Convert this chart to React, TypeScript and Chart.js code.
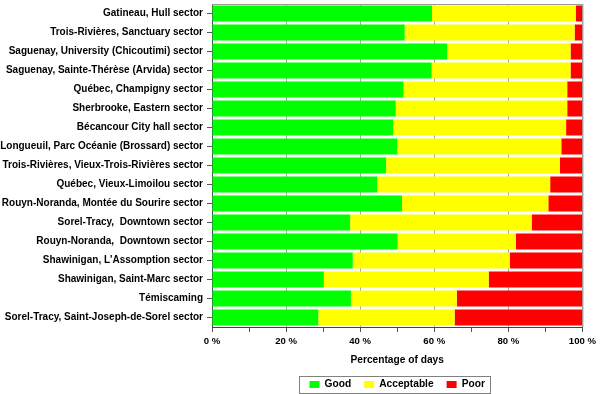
import React, { useEffect, useRef } from "react";
import { Chart, registerables } from "chart.js";

Chart.register(...registerables);

const categories = [
  "Gatineau, Hull sector",
  "Trois-Rivières, Sanctuary sector",
  "Saguenay, University (Chicoutimi) sector",
  "Saguenay, Sainte-Thérèse (Arvida) sector",
  "Québec, Champigny sector",
  "Sherbrooke, Eastern sector",
  "Bécancour City hall sector",
  "Longueuil, Parc Océanie (Brossard) sector",
  "Trois-Rivières, Vieux-Trois-Rivières sector",
  "Québec, Vieux-Limoilou sector",
  "Rouyn-Noranda, Montée du Sourire sector",
  "Sorel-Tracy,  Downtown sector",
  "Rouyn-Noranda,  Downtown sector",
  "Shawinigan, L'Assomption sector",
  "Shawinigan, Saint-Marc sector",
  "Témiscaming",
  "Sorel-Tracy, Saint-Joseph-de-Sorel sector",
];

const good = [59.4, 52.0, 63.5, 59.3, 51.7, 49.6, 48.9, 50.0, 47.0, 44.6, 51.3, 37.3, 50.1, 38.0, 30.2, 37.5, 28.7];
const acceptable = [38.8, 45.9, 33.3, 37.5, 44.2, 46.3, 46.7, 44.3, 46.9, 46.7, 39.5, 49.0, 31.9, 42.4, 44.5, 28.6, 36.8];
const poor = [1.8, 2.1, 3.2, 3.2, 4.1, 4.1, 4.4, 5.7, 6.1, 8.7, 9.2, 13.7, 18.0, 19.6, 25.3, 33.9, 34.5];

const seriesNames = ["Good", "Acceptable", "Poor"];
const seriesColors = ["#00FF00", "#FFFF00", "#FF0000"];
const xTitle = "Percentage of days";

const FONT = "'Liberation Sans', Arial, sans-serif";

const framePlugin = {
  id: "frame",
  afterDatasetsDraw(chart: any) {
    const { ctx, chartArea } = chart;
    ctx.save();
    ctx.strokeStyle = "#9a9a9a";
    ctx.lineWidth = 1;
    ctx.beginPath();
    ctx.moveTo(chartArea.left, chartArea.top + 0.5);
    ctx.lineTo(chartArea.right + 0.5, chartArea.top + 0.5);
    ctx.lineTo(chartArea.right + 0.5, chartArea.bottom);
    ctx.stroke();
    ctx.restore();
  },
  afterDraw(chart: any) {
    const legend = chart.legend;
    if (!legend || !legend.legendHitBoxes || !legend.legendHitBoxes.length) return;
    const boxes = legend.legendHitBoxes;
    const first = boxes[0];
    const last = boxes[boxes.length - 1];
    const left = Math.round(first.left - 10) + 0.5;
    const right = Math.round(last.left + last.width + 5) + 0.5;
    const top = Math.round(first.top - 4) + 0.5;
    const bottom = Math.round(first.top + first.height + 3) + 0.5;
    const { ctx } = chart;
    ctx.save();
    ctx.strokeStyle = "#808080";
    ctx.lineWidth = 1;
    ctx.strokeRect(left, top, right - left, bottom - top);
    ctx.restore();
  },
};

export default function App() {
  const canvasRef = useRef<HTMLCanvasElement | null>(null);

  useEffect(() => {
    if (!canvasRef.current) return;
    const values = [good, acceptable, poor];
    const chart = new Chart(canvasRef.current, {
      type: "bar",
      data: {
        labels: categories,
        datasets: seriesNames.map((name, i) => ({
          label: name,
          data: values[i],
          backgroundColor: seriesColors[i],
          borderWidth: 0,
          barPercentage: 0.84,
          categoryPercentage: 1,
        })),
      },
      options: {
        indexAxis: "y",
        responsive: false,
        animation: false,
        layout: { padding: { left: 0, right: 15, top: 4, bottom: 0 } },
        plugins: {
          tooltip: { enabled: false },
          legend: {
            position: "bottom",
            fullSize: false,
            maxHeight: 27.5,
            labels: {
              boxWidth: 10,
              boxHeight: 7,
              padding: 13,
              color: "#000",
              font: { family: FONT, size: 10.2, weight: "bold" },
            },
          },
        },
        scales: {
          x: {
            stacked: true,
            min: 0,
            max: 100,
            ticks: {
              stepSize: 10,
              autoSkip: false,
              maxRotation: 0,
              padding: 4,
              color: "#000",
              font: { family: FONT, size: 9.6, weight: "bold" },
              callback: (v: any) => (Number(v) % 20 === 0 ? `${v} %` : ""),
            },
            grid: {
              color: (ctx: any) => (ctx.tick && ctx.tick.value % 20 === 0 && ctx.tick.value !== 0 ? "#a8a8a8" : "rgba(0,0,0,0)"),
              tickColor: "#555",
              tickLength: 5,
            },
            border: { color: "#444", width: 1 },
            title: {
              display: true,
              text: xTitle,
              color: "#000",
              padding: { top: 0, bottom: 0.5 },
              font: { family: FONT, size: 10.2, weight: "bold" },
            },
            afterFit: (scale: any) => {
              scale.height = 39.5;
            },
          },
          y: {
            stacked: true,
            ticks: {
              autoSkip: false,
              padding: 4,
              color: "#000",
              font: { family: FONT, size: 10, weight: "bold" },
            },
            grid: {
              offset: false,
              drawOnChartArea: false,
              tickColor: "#555",
              tickLength: 5,
            },
            border: { color: "#444", width: 1 },
            afterFit: (scale: any) => {
              scale.width = 212;
              scale.paddingTop = 0;
              scale.paddingBottom = 0;
            },
          },
        },
      },
      plugins: [framePlugin],
    } as any);
    return () => chart.destroy();
  }, []);

  return (
    <div style={{ position: "absolute", left: 0, top: 0, width: 600, height: 394, background: "#fff" }}>
      <canvas ref={canvasRef} width={600} height={394} />
    </div>
  );
}
